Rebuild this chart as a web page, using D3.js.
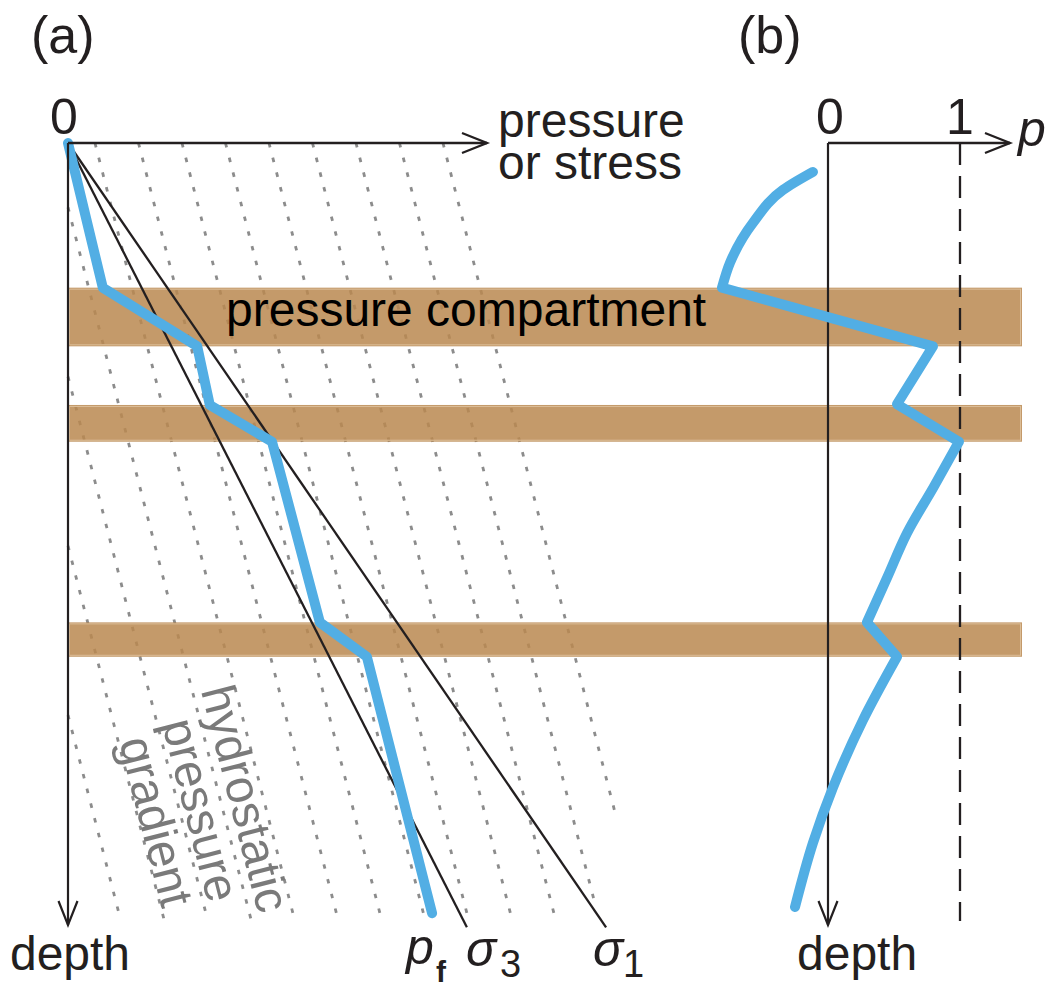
<!DOCTYPE html>
<html><head><meta charset="utf-8">
<script src="https://cdn.jsdelivr.net/npm/d3@7"></script>
<style>
html,body{margin:0;padding:0;background:#fff;}
svg{display:block;font-family:"Liberation Sans",Arial,Helvetica,sans-serif;}
</style></head><body>
<svg id="chart" width="1057" height="987"></svg>
<script>
// ---- data (depth in arbitrary units, 0 = surface; pressure in arbitrary units) ----
// pressure compartments: [top depth, bottom depth]
const compartmentTop    = [18.5, 33.5, 61.3];
const compartmentBottom = [26.0, 38.2, 65.7];

// pore-fluid pressure profile p_f: [pressure, depth]
const fluidPressure = [[0,0],[8.0,18.5],[29.7,26.0],[32.6,33.5],[46.9,38.2],[57.9,61.3],[68.7,65.7],[83.7,98.5]];

// principal stresses (linear with depth): [pressure, depth]
const sigma3 = [[0,0],[91.7,100.3]];
const sigma1 = [[0,0],[123.7,100.3]];

// hydrostatic gradients: surface intercept and depth where each line stops
const hydroSurface = [-33.8,-23.8,-13.8,-3.8,6.2,16.2,26.2,36.2,46.2,56.2,66.2,76.2,86.2];
const hydroBase    = [98.7,99.4,99.4,99.4,99.4,99.4,99.4,99.4,99.4,99.4,99.4,97.8,86.6];
const hydroGradient = 0.462;

// normalised overpressure p in panel (b): segments of [p, depth]
const pUpper   = [[-0.114,3.7],[-0.341,6.0],[-0.568,10.2],[-0.742,15.3],[-0.803,18.5]];
const pZigzag1 = [[-0.803,18.5],[0.795,26.0],[0.523,33.4],[0.992,38.2]];
const pMiddle  = [[0.992,38.2],[0.80,44.0],[0.598,49.9],[0.45,55.5],[0.295,61.3]];
const pZigzag2 = [[0.295,61.3],[0.523,65.7]];
const pLower   = [[0.523,65.7],[0.265,73.8],[0.038,82.4],[-0.114,89.5],[-0.25,97.7]];

// ---- scales ----
const y = d3.scaleLinear().domain([0,100]).range([143,925]);
const x = d3.scaleLinear().domain([0,100]).range([68,503]);
const xp = d3.scaleLinear().domain([0,1]).range([828,960]);

const svg = d3.select("#chart");
const ink = "#231f20";
const blue = "#52aee4";
const fs = 48;

// hydrostatic gradient lines (dotted)
const hydroG = svg.append("g");
hydroSurface.forEach((p0,i) => {
  const d0 = Math.max(0, -p0 / hydroGradient);
  const d1 = hydroBase[i];
  hydroG.append("line")
    .attr("x1", x(p0 + hydroGradient*d0)).attr("y1", y(d0))
    .attr("x2", x(p0 + hydroGradient*d1)).attr("y2", y(d1))
    .attr("stroke", "#8c8c8c").attr("stroke-width", 2.8)
    .attr("stroke-dasharray", "4.5 10.7");
});

// compartments (slightly translucent so the gradient dots show through)
const bandRight = 1022;
const bands = svg.append("g");
compartmentTop.forEach((t,i) => {
  const b = compartmentBottom[i];
  bands.append("rect")
    .attr("x", x(0)).attr("y", y(t))
    .attr("width", bandRight - x(0)).attr("height", y(b) - y(t))
    .attr("fill", "#ba8850").attr("fill-opacity", 0.85);
  bands.append("rect")
    .attr("x", x(0)+1.5).attr("y", y(t)+1.5)
    .attr("width", bandRight - x(0) - 3).attr("height", y(b) - y(t) - 3)
    .attr("fill", "none").attr("stroke", "#dcbe98").attr("stroke-width", 1);
});

svg.append("text").text("pressure compartment")
  .attr("x", 226).attr("y", 326).attr("font-size", fs).attr("fill", "#000");

// hydrostatic label
const hl = svg.append("g")
  .attr("transform", "translate(185,814) rotate(75.6)")
  .attr("fill", "#7a7a7a").attr("font-size", fs).attr("text-anchor", "middle");
[["hydrostatic",-46],["pressure",0],["gradient",46]].forEach(([t,dy]) =>
  hl.append("text").text(t).attr("x",0).attr("y",dy));

// stress lines
const lineXY = d3.line().x(d => x(d[0])).y(d => y(d[1]));
[sigma3, sigma1].forEach(s =>
  svg.append("path").attr("d", lineXY(s))
    .attr("fill","none").attr("stroke", ink).attr("stroke-width", 2.3));

// fluid pressure
svg.append("path").attr("d", lineXY(fluidPressure))
  .attr("fill","none").attr("stroke", blue).attr("stroke-width", 10)
  .attr("stroke-linejoin","round").attr("stroke-linecap","round");

// axes with open arrowheads
function arrowH(x0, x1, yy) {
  svg.append("line").attr("x1",x0).attr("y1",yy).attr("x2",x1).attr("y2",yy)
    .attr("stroke",ink).attr("stroke-width",2.3);
  svg.append("path").attr("d",`M${x1-25},${yy-10}L${x1},${yy}L${x1-25},${yy+10}`)
    .attr("fill","none").attr("stroke",ink).attr("stroke-width",2.3);
}
function arrowV(xx, y0, y1) {
  svg.append("line").attr("x1",xx).attr("y1",y0).attr("x2",xx).attr("y2",y1)
    .attr("stroke",ink).attr("stroke-width",2.2);
  svg.append("path").attr("d",`M${xx-9.5},${y1-24}L${xx},${y1}L${xx+9.5},${y1-24}`)
    .attr("fill","none").attr("stroke",ink).attr("stroke-width",2.2);
}
arrowH(x(0), 487, y(0));
arrowV(x(0), y(0), y(100));

// panel (b)
svg.append("line").attr("x1", xp(1)).attr("x2", xp(1)).attr("y1", y(0)).attr("y2", y(99.5))
  .attr("stroke", ink).attr("stroke-width", 2.3).attr("stroke-dasharray","22 11");
arrowH(xp(0), 1010, y(0));
arrowV(xp(0), y(0), y(100));

const pLineCurve = d3.line().x(d => xp(d[0])).y(d => y(d[1])).curve(d3.curveMonotoneY);
const pLineStraight = d3.line().x(d => xp(d[0])).y(d => y(d[1]));
const pPath = [pLineCurve(pUpper), pLineStraight(pZigzag1), pLineCurve(pMiddle),
               pLineStraight(pZigzag2), pLineCurve(pLower)].join("");
svg.append("path").attr("d", pPath)
  .attr("fill","none").attr("stroke", blue).attr("stroke-width", 10)
  .attr("stroke-linejoin","round").attr("stroke-linecap","round");

// labels
const T = (txt, px, py, opts={}) => {
  const t = svg.append("text").text(txt).attr("x",px).attr("y",py)
    .attr("font-size", opts.size || fs).attr("fill", ink);
  if (opts.anchor) t.attr("text-anchor", opts.anchor);
  if (opts.italic) t.attr("font-style","italic");
  if (opts.bold) t.attr("font-weight","bold");
  return t;
};
T("(a)", 31, 53, {size:52});
T("(b)", 738, 53, {size:52});
T("0", x(0)-4, 134, {anchor:"middle", size:50});
T("pressure", 498, 137);
T("or stress", 498, 179);
T("0", xp(0)+2, 134, {anchor:"middle", size:50});
T("1", xp(1), 134, {anchor:"middle", size:50});
T("p", 1018, 146, {italic:true, size:50});
T("depth", x(0)+2, 970, {anchor:"middle"});
T("depth", 797, 970);
T("p", 406, 964, {italic:true, size:50});
T("f", 436, 982, {size:30, bold:true});
T("σ", 466, 966, {italic:true, size:50});
T("3", 500, 977, {size:38});
T("σ", 593, 966, {italic:true, size:50});
T("1", 623, 977, {size:38});
</script>
</body></html>
